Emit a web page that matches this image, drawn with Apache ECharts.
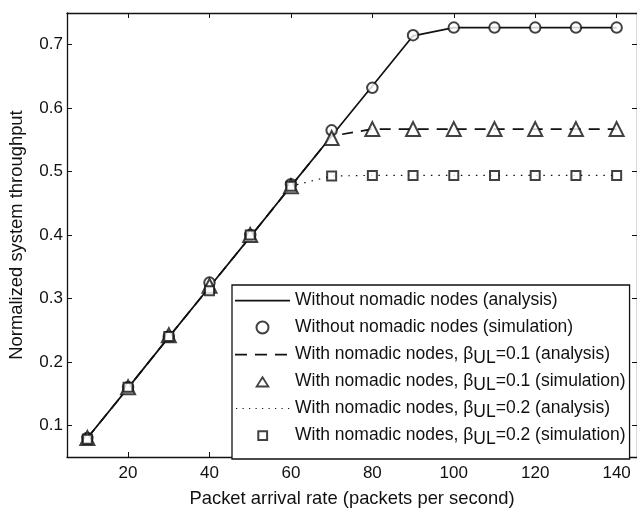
<!DOCTYPE html>
<html>
<head>
<meta charset="utf-8">
<script src="https://cdn.jsdelivr.net/npm/echarts@6/dist/echarts.min.js"></script>
<style>
  html, body { margin: 0; padding: 0; background: #fff; }
  #chart { width: 637px; height: 513px; }
</style>
</head>
<body>
<div id="chart"></div>
<script>
// packet arrival rate
var rates = [10, 20, 30, 40, 50, 60, 70, 80, 90, 100, 110, 120, 130, 140];

// analysis curves
var noNomadicAnalysis = [0.080, 0.159, 0.239, 0.318, 0.397, 0.477, 0.556, 0.635, 0.714, 0.727, 0.727, 0.727, 0.727, 0.727];
var beta01Analysis    = [0.080, 0.159, 0.239, 0.318, 0.397, 0.477, 0.556, 0.567, 0.567, 0.567, 0.567, 0.567, 0.567, 0.567];
var beta02Analysis    = [0.080, 0.159, 0.239, 0.318, 0.397, 0.477, 0.493, 0.494, 0.494, 0.494, 0.494, 0.494, 0.494, 0.494];

// simulation points
var noNomadicSim = [0.080, 0.160, 0.240, 0.325, 0.400, 0.480, 0.565, 0.632, 0.715, 0.727, 0.727, 0.727, 0.727, 0.727];
var beta01Sim    = [0.080, 0.160, 0.242, 0.320, 0.400, 0.477, 0.553, 0.567, 0.567, 0.567, 0.567, 0.567, 0.567, 0.567];
var beta02Sim    = [0.078, 0.160, 0.240, 0.312, 0.400, 0.477, 0.493, 0.494, 0.494, 0.494, 0.494, 0.494, 0.494, 0.494];

var xTicks = [20, 40, 60, 80, 100, 120, 140];
var yTicks = [0.1, 0.2, 0.3, 0.4, 0.5, 0.6, 0.7];

var names = [
    'Without nomadic nodes (analysis)',
    'Without nomadic nodes (simulation)',
    'With nomadic nodes, b01a',
    'With nomadic nodes, b01s',
    'With nomadic nodes, b02a',
    'With nomadic nodes, b02s'
];
var legendText = {};
legendText[names[0]] = names[0];
legendText[names[1]] = names[1];
legendText[names[2]] = 'With nomadic nodes, β{sub|UL}=0.1 (analysis)';
legendText[names[3]] = 'With nomadic nodes, β{sub|UL}=0.1 (simulation)';
legendText[names[4]] = 'With nomadic nodes, β{sub|UL}=0.2 (analysis)';
legendText[names[5]] = 'With nomadic nodes, β{sub|UL}=0.2 (simulation)';

// legend glyphs, drawn in a 55x12 box (the M0,0 / M55,12 pin the box)
var box = 'M0,0 M55,12 ';
var iconSolid = 'path://' + box + 'M0,5.2h55v1.7h-55z';
var iconDash = 'path://' + box + 'M0,5.2h12v1.7h-12z M20,5.2h12v1.7h-12z M40,5.2h12v1.7h-12z';
var dots = '';
for (var d = 1; d < 55; d += 6.5) dots += 'M' + d + ',5.4h1.2v1.2h-1.2z ';
var iconDot = 'path://' + box + dots;
var iconTri = 'path://' + box + 'M20,12 L27.5,0 L35,12 Z M23.3,10.1 L31.7,10.1 L27.5,3.5 Z';
var iconSq = 'path://' + box + 'M22.3,0.8 h10.8 v10.8 h-10.8 z M24.3,2.8 v6.8 h6.8 v-6.8 z';

function pairs(vals) {
    return rates.map(function (r, i) { return [r, vals[i]]; });
}

var chart = echarts.init(document.getElementById('chart'));
var ink = '#111';
var font = 'Liberation Sans, Arial, Helvetica, sans-serif';

function mirrorAxis(pos) {
    return {
        type: 'value',
        position: pos,
        min: pos == 'top' ? 5 : 0.05,
        max: pos == 'top' ? 145 : 0.75,
        axisLine: { show: true, lineStyle: { color: ink, width: 1.3 } },
        axisTick: { show: true, inside: true, length: 5, customValues: pos == 'top' ? xTicks : yTicks, lineStyle: { color: ink } },
        axisLabel: { show: false },
        splitLine: { show: false }
    };
}

var lineBase = { type: 'line', showSymbol: false, symbol: 'none', z: 3 };
var simBase = { type: 'scatter', z: 4, itemStyle: { color: ink, borderColor: ink, borderWidth: 1.8 } };
var noBorder = { color: ink, borderWidth: 0 };

var option = {
    backgroundColor: '#fff',
    animation: false,
    textStyle: { fontFamily: font },
    grid: { left: 65, right: -3, top: 13, bottom: 46 },
    xAxis: [{
        type: 'value',
        min: 5,
        max: 145,
        name: 'Packet arrival rate (packets per second)',
        nameLocation: 'middle',
        nameGap: 33,
        nameTextStyle: { fontSize: 18.4, color: ink, fontFamily: font },
        axisLine: { show: true, lineStyle: { color: ink, width: 1.3 } },
        axisTick: { show: true, inside: true, length: 5, customValues: xTicks, lineStyle: { color: ink } },
        axisLabel: { customValues: xTicks, fontSize: 17, color: ink, margin: 8, fontFamily: font },
        splitLine: { show: false }
    }, mirrorAxis('top')],
    yAxis: [{
        type: 'value',
        min: 0.05,
        max: 0.75,
        name: 'Normalized system throughput',
        nameLocation: 'middle',
        nameGap: 41,
        nameTextStyle: { fontSize: 18.4, color: ink, fontFamily: font },
        axisLine: { show: true, lineStyle: { color: ink, width: 1.3 } },
        axisTick: { show: true, inside: true, length: 5, customValues: yTicks, lineStyle: { color: ink } },
        axisLabel: { customValues: yTicks, fontSize: 17, color: ink, margin: 4, fontFamily: font, formatter: function (v) { return v.toFixed(1); } },
        splitLine: { show: false }
    }, mirrorAxis('right')],
    legend: {
        orient: 'vertical',
        left: 232,
        top: 285,
        padding: [3, 4, 11, 3],
        itemGap: 2,
        itemWidth: 55,
        itemHeight: 12,
        backgroundColor: '#fff',
        borderColor: ink,
        borderWidth: 1.3,
        data: [
            { name: names[0], icon: iconSolid, itemStyle: noBorder },
            { name: names[1] },
            { name: names[2], icon: iconDash, itemStyle: noBorder },
            { name: names[3], icon: iconTri, itemStyle: noBorder },
            { name: names[4], icon: iconDot, itemStyle: noBorder },
            { name: names[5], icon: iconSq, itemStyle: noBorder }
        ],
        formatter: function (n) { return legendText[n]; },
        textStyle: {
            fontSize: 17.5,
            lineHeight: 25,
            color: ink,
            fontFamily: font,
            rich: {
                sub: { fontSize: 17.5, lineHeight: 11, color: ink, fontFamily: font, verticalAlign: 'bottom' }
            }
        }
    },
    series: [
        Object.assign({}, lineBase, { name: names[0], data: pairs(noNomadicAnalysis), lineStyle: { color: ink, width: 1.7, type: 'solid' }, itemStyle: { color: ink } }),
        Object.assign({}, simBase, { name: names[1], data: pairs(noNomadicSim), symbol: 'emptyCircle', symbolSize: 10.5 }),
        Object.assign({}, lineBase, { name: names[2], data: pairs(beta01Analysis), lineStyle: { color: ink, width: 1.7, type: [11, 8] }, itemStyle: { color: ink } }),
        Object.assign({}, simBase, { name: names[3], data: pairs(beta01Sim), symbol: 'emptyTriangle', symbolSize: 14 }),
        Object.assign({}, lineBase, { name: names[4], data: pairs(beta02Analysis), lineStyle: { color: ink, width: 1.2, type: [1.5, 6] }, itemStyle: { color: ink } }),
        Object.assign({}, simBase, { name: names[5], data: pairs(beta02Sim), symbol: 'emptyRect', symbolSize: 9 })
    ]
};

chart.setOption(option);
</script>
</body>
</html>
